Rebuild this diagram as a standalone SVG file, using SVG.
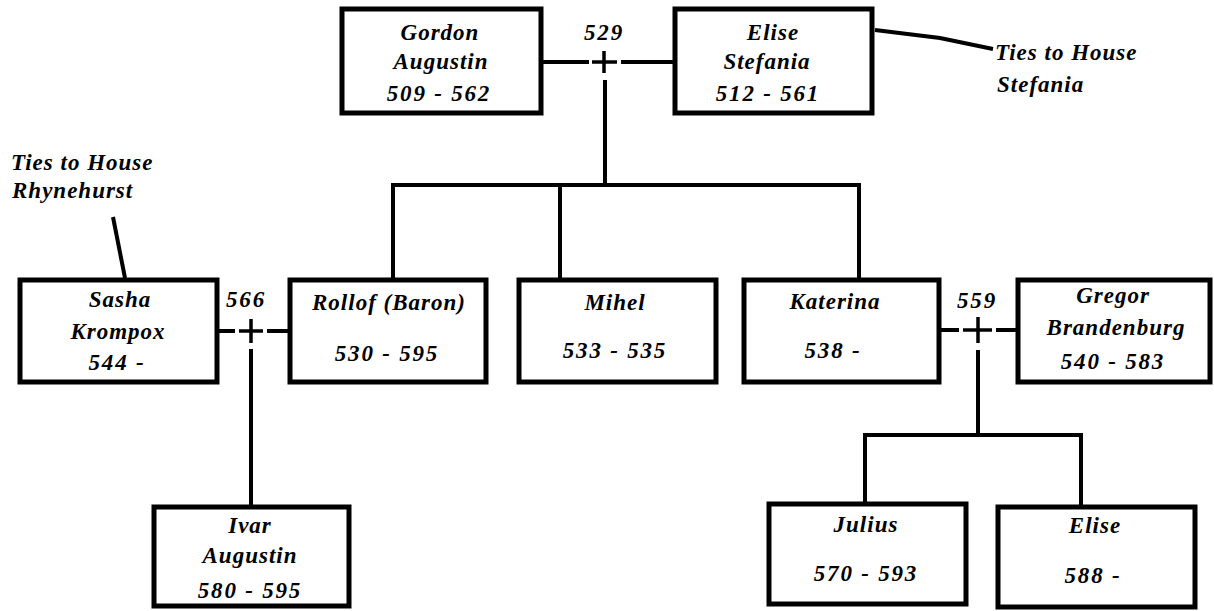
<svg xmlns="http://www.w3.org/2000/svg" width="1214" height="611" viewBox="0 0 1214 611">
<style>
.box{fill:#fff;stroke:#000;stroke-width:5}
.ln{fill:none;stroke:#000;stroke-width:4}
.cr{fill:none;stroke:#000;stroke-width:3.5}
text{font-family:"Liberation Serif",serif;font-weight:bold;font-style:italic;font-size:23px;fill:#000;text-anchor:middle;letter-spacing:1px}
.num{letter-spacing:1.8px}
.note{text-anchor:start}
</style>
<rect width="1214" height="611" fill="#fff"/>
<g id="connectors">
<polyline class="ln" points="543,62 589,62"/>
<polyline class="ln" points="621,62 673,62"/>
<polyline class="cr" points="592,62 617,62"/>
<polyline class="cr" points="604,51 604,73"/>
<polyline class="ln" points="605,80 605,185"/>
<polyline class="ln" points="393,278 393,185 859,185 859,278"/>
<polyline class="ln" points="560,185 560,278"/>
<polyline class="ln" points="219,331 235,331"/>
<polyline class="ln" points="267,331 288,331"/>
<polyline class="cr" points="239,331 263,331"/>
<polyline class="cr" points="251,319 251,343"/>
<polyline class="ln" points="251,349 251,505"/>
<polyline class="ln" points="941,330 959,330"/>
<polyline class="ln" points="996,330 1016,330"/>
<polyline class="cr" points="963,330 992,330"/>
<polyline class="cr" points="978,317 978,343"/>
<polyline class="ln" points="978,350 978,435"/>
<polyline class="ln" points="865,502 865,435 1081,435 1081,505"/>
<polyline class="ln" points="875,30 940,38 993,49"/>
<polyline class="ln" points="113,217 125,278"/>
</g>
<g id="labels">
<text class="num" x="604" y="40">529</text>
<text class="num" x="246" y="307">566</text>
<text class="num" x="977" y="308">559</text>
<text class="note" x="11" y="170">Ties to House</text>
<text class="note" x="12" y="198">Rhynehurst</text>
<text class="note" x="995" y="60">Ties to House</text>
<text class="note" x="997" y="92">Stefania</text>
</g>
<g id="gordon">
<rect class="box" x="342" y="9" width="199" height="104"/>
<text x="440" y="40">Gordon</text>
<text x="441" y="69">Augustin</text>
<text class="num" x="439" y="101">509 - 562</text>
</g>
<g id="elise-stefania">
<rect class="box" x="675" y="9" width="197" height="104"/>
<text x="773" y="40">Elise</text>
<text x="767" y="69">Stefania</text>
<text class="num" x="768" y="101">512 - 561</text>
</g>
<g id="sasha">
<rect class="box" x="20" y="280" width="197" height="102"/>
<text x="120" y="307">Sasha</text>
<text x="118" y="339">Krompox</text>
<text class="num" x="117" y="370">544 -</text>
</g>
<g id="rollof">
<rect class="box" x="290" y="280" width="196" height="102"/>
<text x="389" y="310">Rollof (Baron)</text>
<text class="num" x="387" y="361">530 - 595</text>
</g>
<g id="mihel">
<rect class="box" x="519" y="280" width="197" height="102"/>
<text x="615" y="310">Mihel</text>
<text class="num" x="615" y="358">533 - 535</text>
</g>
<g id="katerina">
<rect class="box" x="744" y="280" width="195" height="102"/>
<text x="835" y="309">Katerina</text>
<text class="num" x="833" y="358">538 -</text>
</g>
<g id="gregor">
<rect class="box" x="1018" y="280" width="192" height="102"/>
<text x="1113" y="303">Gregor</text>
<text x="1116" y="335">Brandenburg</text>
<text class="num" x="1113" y="369">540 - 583</text>
</g>
<g id="ivar">
<rect class="box" x="154" y="507" width="195" height="99"/>
<text x="250" y="533">Ivar</text>
<text x="250" y="563">Augustin</text>
<text class="num" x="250" y="598">580 - 595</text>
</g>
<g id="julius">
<rect class="box" x="769" y="504" width="197" height="100"/>
<text x="866" y="532">Julius</text>
<text class="num" x="866" y="581">570 - 593</text>
</g>
<g id="elise">
<rect class="box" x="998" y="507" width="197" height="100"/>
<text x="1095" y="533">Elise</text>
<text class="num" x="1093" y="583">588 -</text>
</g>
</svg>
